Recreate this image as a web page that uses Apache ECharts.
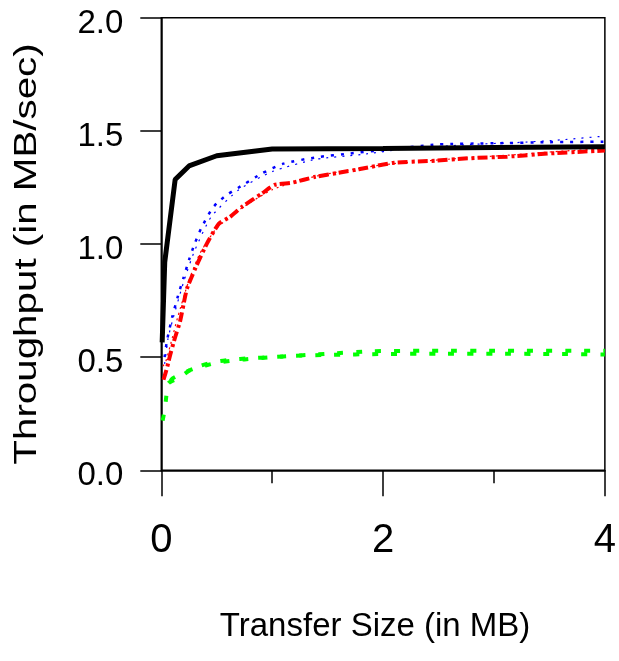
<!DOCTYPE html>
<html>
<head>
<meta charset="utf-8">
<script src="https://cdn.jsdelivr.net/npm/echarts@6/dist/echarts.min.js"></script>
<style>
  html, body { margin: 0; padding: 0; background: #fff; }
  #main { width: 619px; height: 661px; }
</style>
</head>
<body>
<div id="main"></div>
<script>
// values (x in MB, y in MB/sec)
var blackX = [0.0078, 0.031, 0.125, 0.25, 0.5, 1, 2, 3, 4];
var blackY = [0.565, 0.92, 1.285, 1.345, 1.39, 1.42, 1.422, 1.426, 1.43];

var blueX = [0.03, 0.05, 0.1, 0.15, 0.2, 0.25, 0.3, 0.36, 0.45, 0.5, 0.6, 0.75, 0.9, 1.1, 1.4, 1.7, 2.0, 2.5, 3.0, 3.5, 4.0];
var blueY = [0.50, 0.57, 0.68, 0.77, 0.85, 0.93, 1.0, 1.07, 1.15, 1.18, 1.22, 1.265, 1.31, 1.355, 1.383, 1.40, 1.415, 1.44, 1.445, 1.45, 1.452];
var blue2X = [0.03, 0.06, 0.1, 0.2, 0.3, 0.45, 0.7, 1.0, 1.4, 1.8, 2.2, 2.8, 3.2, 3.6, 4.0];
var blue2Y = [0.47, 0.58, 0.66, 0.83, 0.97, 1.12, 1.24, 1.32, 1.375, 1.395, 1.42, 1.44, 1.448, 1.46, 1.477];

var redX = [0.02, 0.05, 0.08, 0.12, 0.17, 0.23, 0.3, 0.36, 0.42, 0.52, 0.62, 0.73, 0.91, 1.02, 1.18, 1.39, 1.6, 1.78, 2.1, 2.43, 2.78, 3.12, 3.5, 3.87, 4.0];
var redY = [0.40, 0.45, 0.51, 0.58, 0.66, 0.80, 0.885, 0.95, 1.01, 1.09, 1.12, 1.165, 1.224, 1.261, 1.271, 1.297, 1.315, 1.33, 1.359, 1.367, 1.379, 1.386, 1.40, 1.41, 1.413];
var red2X = [0.015, 0.04, 0.08, 0.15, 0.25, 0.35, 0.5, 0.7, 1.0, 1.4, 2.0, 2.6, 3.2, 3.6, 4.0];
var red2Y = [0.46, 0.48, 0.55, 0.68, 0.84, 0.96, 1.07, 1.15, 1.24, 1.3, 1.35, 1.375, 1.395, 1.41, 1.42];

var greenX = [0.012, 0.033, 0.048, 0.063, 0.12, 0.17, 0.25, 0.36, 0.5, 0.62, 0.8, 1.0, 1.2, 1.5, 2.0, 2.5, 3.0, 3.5, 4.0];
var greenY = [0.22, 0.274, 0.34, 0.384, 0.40, 0.411, 0.44, 0.463, 0.48, 0.488, 0.495, 0.50, 0.506, 0.51, 0.514, 0.515, 0.515, 0.514, 0.512];
var green2X = [0.03, 0.1, 0.2, 0.3, 0.5, 0.75, 1.0, 1.5, 1.9, 2.5, 3.0, 4.0];
var green2Y = [0.36, 0.405, 0.43, 0.45, 0.475, 0.49, 0.50, 0.515, 0.526, 0.528, 0.528, 0.528];

var yTicks = [0, 0.5, 1.0, 1.5, 2.0];
var xTicks = [0, 2, 4];

function pairs(xs, ys) {
    return xs.map(function (x, i) { return [x, ys[i]]; });
}

var myChart = echarts.init(document.getElementById('main'));

myChart.setOption({
    animation: false,
    backgroundColor: '#fff',
    grid: {
        left: 161.3, right: 10.7, top: 17.7, bottom: 190.7,
        show: true, borderColor: '#000', borderWidth: 1.5
    },
    xAxis: {
        type: 'value',
        min: xTicks[0], max: xTicks[xTicks.length - 1], interval: 2,
        name: 'Transfer Size (in MB)',
        nameLocation: 'middle',
        nameGap: 157,
        nameTextStyle: {
            fontFamily: 'Liberation Sans', fontSize: 33, color: '#000',
            verticalAlign: 'middle', padding: [0, 16, 0, 0]
        },
        axisLine: { lineStyle: { color: '#000', width: 1.5 } },
        axisTick: { length: 26, lineStyle: { color: '#000', width: 1.5 } },
        minorTick: { show: true, splitNumber: 2, length: 13, lineStyle: { color: '#000', width: 1.5 } },
        splitLine: { show: false },
        axisLabel: {
            fontFamily: 'Liberation Sans', fontSize: 40, color: '#000',
            margin: 71, verticalAlign: 'middle',
            formatter: function (v) { return String(v); }
        }
    },
    yAxis: {
        type: 'value',
        min: yTicks[0], max: yTicks[yTicks.length - 1], interval: 0.5,
        axisLine: { lineStyle: { color: '#000', width: 1.5 } },
        axisTick: { length: 21, lineStyle: { color: '#000', width: 1.5 } },
        splitLine: { show: false },
        axisLabel: {
            fontFamily: 'Liberation Sans', fontSize: 33, color: '#000',
            margin: 38, verticalAlign: 'top', lineHeight: 12,
            formatter: function (v) { return v.toFixed(1); }
        }
    },
    graphic: [{
        type: 'text',
        x: 27, y: 254,
        rotation: Math.PI / 2,
        scaleX: 1.26,
        style: {
            text: 'Throughput (in MB/sec)',
            fontFamily: 'Liberation Sans', fontSize: 32, fill: '#000',
            align: 'center', verticalAlign: 'middle'
        }
    }],
    series: [
        {
            type: 'line', data: pairs(green2X, green2Y), showSymbol: false, smooth: 0.2,
            lineStyle: { color: '#00ff00', width: 4, type: [6, 13], dashOffset: 9 }
        },
        {
            type: 'line', data: pairs(greenX, greenY), showSymbol: false, smooth: 0.2,
            lineStyle: { color: '#00ff00', width: 4, type: [6, 13] }
        },
        {
            type: 'line', data: pairs(red2X, red2Y), showSymbol: false, smooth: 0.2,
            lineStyle: { color: '#ff0000', width: 1.2, type: [2, 4] }
        },
        {
            type: 'line', data: pairs(redX, redY), showSymbol: false, smooth: 0.2,
            lineStyle: { color: '#ff0000', width: 4, type: [10, 4, 3, 3] }
        },
        {
            type: 'line', data: pairs(blue2X, blue2Y), showSymbol: false, smooth: 0.2,
            lineStyle: { color: '#0000ff', width: 1.2, type: [2, 6] }
        },
        {
            type: 'line', data: pairs(blueX, blueY), showSymbol: false, smooth: 0.2,
            lineStyle: { color: '#0000ff', width: 2.5, type: [3, 7] }
        },
        {
            type: 'line', data: pairs(blackX, blackY), showSymbol: false,
            lineStyle: { color: '#000', width: 5 }
        }
    ]
});
</script>
</body>
</html>
